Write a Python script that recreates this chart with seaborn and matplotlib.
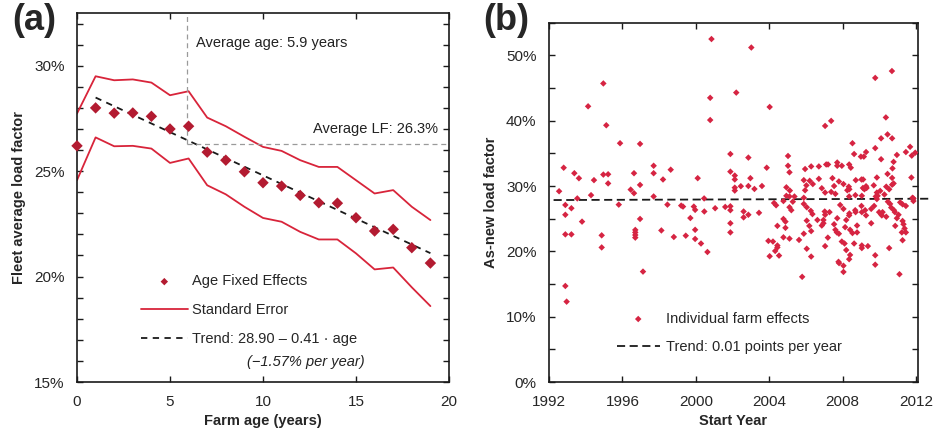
import numpy as np
import pandas as pd
import matplotlib
matplotlib.use("Agg")
import matplotlib.pyplot as plt
import seaborn as sns
from matplotlib.ticker import MultipleLocator, FuncFormatter

# ---------------- data: panel (a) ----------------
age = list(range(20))
age_effect = [26.2, 28.0, 27.75, 27.76, 27.6, 27.0, 27.13, 25.9, 25.52, 24.97,
              24.45, 24.29, 23.85, 23.5, 23.48, 22.79, 22.16, 22.24, 21.37, 20.64]
se_upper = [27.73, 29.5, 29.31, 29.35, 29.2, 28.6, 28.79, 27.54, 27.13, 26.63,
            26.15, 25.96, 25.52, 25.2, 25.2, 24.57, 23.94, 24.1, 23.31, 22.68]
se_lower = [24.57, 26.6, 26.18, 26.2, 26.07, 25.39, 25.6, 24.33, 23.9, 23.31,
            22.78, 22.6, 22.12, 21.76, 21.76, 21.1, 20.34, 20.43, 19.49, 18.6]
trend_intercept = 28.90
trend_slope = -0.41
trend_ages = [1, 19]
avg_age = 5.9
avg_lf = 26.3

# ---------------- data: panel (b) ----------------
start_year = [
    1992.55, 1992.8, 1993.38, 1993.63, 1993.54, 1994.13, 1994.29, 1994.45, 1994.96, 1994.96,
    1995.22, 1995.22, 1995.12, 1995.87, 1996.45, 1996.63, 1996.63, 1996.96, 1996.96, 1997.7,
    1997.7, 1997.7, 1998.21, 1998.63,
    1992.89, 1993.22, 1992.89, 1993.8, 1992.89, 1993.22, 1994.87, 1994.87, 1995.8, 1996.96,
    1996.7, 1996.7, 1996.7, 1996.7, 1998.12, 1998.45, 1998.8, 1997.12, 1992.89, 1992.96,
    1999.2, 1999.3, 1999.45, 1999.7, 1999.89, 1999.96, 1999.96, 1999.96, 2000.28, 2000.46,
    2000.63, 2001.05, 2000.1, 2000.45, 2000.85, 2000.78, 2000.78,
    2003.02, 2002.2, 2004.02, 2001.88, 2001.88, 2002.12, 2002.12, 2002.12, 2002.12, 2002.45,
    2002.86, 2002.97, 2002.86, 2003.19, 2003.6, 2003.86, 2005.02, 2005.02, 2005.1, 2004.93,
    2005.12, 2004.93, 2005.1, 2005.37,
    2001.6, 2001.88, 2001.88, 2001.88, 2001.88, 2002.6, 2002.6, 2002.86, 2003.44, 2004.26,
    2004.37, 2004.77, 2005.1, 2005.2, 2005.28, 2004.77, 2004.88, 2004.44, 2004.88, 2004.77,
    2005.1, 2003.95, 2004.2, 2004.44, 2004.44, 2004.32, 2004.02, 2004.53,
    2010.68, 2009.77, 2010.35, 2007.04, 2007.37, 2010.44, 2010.09, 2010.69, 2008.53, 2009.77,
    2011.67, 2011.76, 2011.95, 2011.44, 2008.62, 2008.99, 2009.15, 2009.27, 2010.95, 2010.77,
    2010.09, 2010.71, 2010.44, 2010.69, 2011.74, 2009.86, 2005.95, 2006.28, 2006.7, 2007.1,
    2007.2, 2007.7, 2007.7, 2007.95, 2008.35, 2008.44, 2005.88, 2006.2, 2006.7, 2006.02,
    2006.37, 2005.95, 2006.86, 2007.04, 2007.44, 2007.53, 2007.37, 2007.6, 2007.79, 2008.04,
    2008.33, 2008.36, 2008.25, 2008.71, 2009.02, 2009.11, 2009.27, 2009.1, 2009.18, 2009.3,
    2009.69, 2009.86, 2010.04, 2010.27, 2010.37, 2010.53, 2010.69, 2010.77, 2008.69, 2009.04,
    2008.35, 2005.88, 2009.8, 2009.9, 2011.8,
    2005.88, 2006.04, 2006.26, 2006.35, 2006.04, 2006.62, 2006.18, 2006.28, 2005.88, 2005.62,
    2006.04, 2006.28, 2005.79, 2007.02, 2007.28, 2007.04, 2006.95, 2006.95, 2006.86, 2007.19,
    2007.04, 2007.53, 2007.7, 2007.6, 2007.68, 2007.79, 2007.86, 2008.04, 2007.95, 2008.1,
    2008.19, 2007.77, 2007.8, 2008.04, 2008.04, 2008.4, 2008.35, 2008.13, 2008.4, 2008.53,
    2008.62, 2008.78, 2008.78, 2008.36, 2008.35, 2008.19, 2008.68, 2008.7, 2009.02, 2009.22,
    2009.04, 2009.27, 2009.04, 2009.04, 2009.37, 2009.55, 2009.55, 2009.71, 2009.77, 2009.77,
    2009.98, 2010.09, 2010.17, 2010.13, 2009.86, 2010.37, 2010.46, 2010.58, 2010.64, 2010.79,
    2010.84, 2011.04, 2010.95, 2010.86, 2010.53, 2011.09, 2011.13, 2011.26, 2011.44, 2011.26,
    2011.31, 2011.37, 2011.22, 2011.44, 2011.26, 2011.85, 2011.85,
]
as_new_lf = [
    29.2, 32.8, 31.96, 31.19, 28.1, 42.2, 28.6, 30.9, 45.7, 31.75,
    31.8, 30.4, 39.3, 36.55, 29.45, 28.9, 31.96, 30.17, 36.45, 33.1,
    31.96, 28.4, 31.0, 32.5,
    27.1, 26.6, 25.6, 24.55, 22.6, 22.6, 22.45, 20.6, 27.15, 24.96,
    23.28, 22.9, 22.5, 22.1, 23.2, 27.15, 22.2, 16.9, 14.7, 12.3,
    27.0, 26.85, 22.4, 25.1, 26.85, 26.35, 23.3, 21.9, 21.2, 26.1,
    19.9, 26.6, 31.2, 28.1, 52.5, 43.5, 40.1,
    51.2, 44.3, 42.1, 34.9, 32.2, 31.6, 31.0, 29.75, 29.3, 29.97,
    34.35, 31.2, 30.0, 29.55, 30.0, 32.8, 34.6, 33.1, 32.1, 29.8,
    29.3, 28.5, 28.4, 28.4,
    26.8, 26.9, 26.3, 24.3, 22.9, 26.1, 25.2, 25.6, 25.9, 27.4,
    27.05, 27.7, 26.75, 26.3, 27.6, 24.96, 24.55, 23.9, 23.6, 22.15,
    21.95, 21.6, 21.5, 20.9, 20.6, 20.06, 19.25, 19.35,
    47.6, 46.55, 40.5, 39.2, 39.97, 37.9, 37.3, 37.3, 36.55, 35.8,
    36.0, 34.65, 35.1, 35.2, 34.9, 34.5, 34.5, 35.2, 34.76, 33.7,
    34.1, 32.7, 31.85, 31.24, 31.3, 31.3, 32.6, 33.0, 33.0, 33.3,
    33.3, 33.6, 33.1, 33.1, 33.3, 32.8, 30.9, 30.8, 31.1, 30.1,
    30.3, 29.35, 29.66, 29.0, 31.2, 30.0, 29.1, 28.8, 30.7, 30.3,
    29.9, 29.5, 29.35, 30.9, 31.0, 31.0, 29.97, 29.7, 29.5, 29.7,
    30.1, 29.0, 29.25, 28.7, 29.9, 29.5, 30.2, 30.4, 28.6, 28.5,
    28.4, 28.2, 28.4, 28.5, 28.2,
    27.26, 26.75, 26.2, 25.7, 24.7, 24.8, 23.9, 23.1, 22.7, 21.75,
    20.4, 19.2, 16.1, 26.1, 26.0, 25.6, 24.8, 24.3, 23.95, 22.1,
    20.8, 24.15, 25.07, 23.3, 22.9, 22.7, 27.1, 26.5, 21.5, 21.2,
    20.2, 18.4, 18.2, 17.8, 16.85, 19.45, 18.8, 23.7, 23.3, 22.8,
    21.2, 23.95, 22.9, 25.8, 25.5, 24.8, 26.3, 26.0, 26.95, 26.3,
    26.0, 25.5, 20.9, 20.5, 20.8, 24.3, 26.5, 26.95, 19.4, 17.96,
    26.0, 25.7, 26.0, 25.5, 28.0, 25.3, 27.6, 27.26, 26.7, 26.3,
    26.0, 25.6, 25.07, 23.9, 20.5, 16.5, 27.5, 27.2, 26.95, 24.65,
    24.15, 23.5, 22.9, 22.9, 21.7, 28.1, 27.7,
]
trend_b_level = 27.95      # trend value in 2002
trend_b_slope = 0.01       # points per year
trend_b_years = [1992.25, 2012.75]

# ---------------- styling ----------------
sns.set_theme(style="ticks")
plt.rcParams["font.family"] = ["Liberation Sans", "DejaVu Sans"]
plt.rcParams["axes.edgecolor"] = "#1a1a1a"
plt.rcParams["axes.linewidth"] = 1.2

FE_RED = "#B31B31"
SE_RED = "#D8243A"
PT_RED = "#D62442"
TICK_FS = 11
LAB_FS = 10.5

pct = FuncFormatter(lambda v, _: f"{v:.0f}%")

fig = plt.figure(figsize=(9.33, 4.32), dpi=100)
ax_a = fig.add_axes([77 / 933, 1 - 382 / 432, 372 / 933, 369 / 432])
ax_b = fig.add_axes([549 / 933, 1 - 382 / 432, 369 / 933, 359.3 / 432])

# ---------------- panel (a) ----------------
df_a = pd.DataFrame({"age": age, "effect": age_effect,
                     "upper": se_upper, "lower": se_lower})
sns.lineplot(data=df_a, x="age", y="upper", color=SE_RED, lw=1.3, ax=ax_a,
             label="Standard Error")
sns.lineplot(data=df_a, x="age", y="lower", color=SE_RED, lw=1.3, ax=ax_a)

df_trend = pd.DataFrame({"age": trend_ages})
df_trend["lf"] = trend_intercept + trend_slope * df_trend["age"]
sns.lineplot(data=df_trend, x="age", y="lf", color="#1a1a1a", lw=1.3,
             linestyle=(0, (3.5, 3)), ax=ax_a,
             label="Trend: 28.90 \u2013 0.41 \u00b7 age")

sns.scatterplot(data=df_a, x="age", y="effect", marker="D", s=34,
                color=FE_RED, edgecolor="none", ax=ax_a, zorder=4,
                clip_on=False, label="Age Fixed Effects")

ax_a.set_xlim(0, 20)
ax_a.set_ylim(15, 32.5)
ax_a.vlines(avg_age, avg_lf, 32.5, colors="#9a9a9a", lw=0.9,
            linestyles=(0, (4, 3)))
ax_a.hlines(avg_lf, avg_age, 20, colors="#9a9a9a", lw=0.9,
            linestyles=(0, (4, 3)))
ax_a.text(6.4, 31.1, f"Average age: {avg_age} years", fontsize=LAB_FS,
          va="center", ha="left", color="#222222")
ax_a.text(19.4, 27.0, f"Average LF: {avg_lf}%", fontsize=LAB_FS,
          va="center", ha="right", color="#222222")

ax_a.xaxis.set_major_locator(MultipleLocator(5))
ax_a.yaxis.set_major_locator(MultipleLocator(5))
ax_a.yaxis.set_minor_locator(MultipleLocator(1))
ax_a.yaxis.set_major_formatter(pct)
ax_a.set_xlabel("Farm age (years)", fontsize=LAB_FS, fontweight="bold", labelpad=4)
ax_a.set_ylabel("Fleet average load factor", fontsize=LAB_FS,
                fontweight="bold", labelpad=6)

handles, labels = ax_a.get_legend_handles_labels()
order = ["Age Fixed Effects", "Standard Error", "Trend: 28.90 \u2013 0.41 \u00b7 age"]
hmap = dict(zip(labels, handles))
ax_a.legend([hmap[k] for k in order], order, loc="center left",
            bbox_to_anchor=(0.172, 0.195), frameon=False, fontsize=LAB_FS,
            handlelength=3.2, handletextpad=0.3, labelspacing=1.0,
            borderpad=0, borderaxespad=0, markerscale=0.65)
ax_a.text(15.47, 15.96, "(\u22121.57% per year)", fontsize=LAB_FS,
          style="italic", ha="right", va="center", color="#222222")

# ---------------- panel (b) ----------------
df_b = pd.DataFrame({"year": start_year, "lf": as_new_lf})
sns.scatterplot(data=df_b, x="year", y="lf", marker="D", s=11, color=PT_RED,
                edgecolor="none", ax=ax_b, zorder=3,
                label="Individual farm effects")
df_tb = pd.DataFrame({"year": trend_b_years})
df_tb["lf"] = trend_b_level + trend_b_slope * (df_tb["year"] - 2002)
sns.lineplot(data=df_tb, x="year", y="lf", color="#1a1a1a", lw=1.3,
             linestyle=(0, (4.5, 2.5)), ax=ax_b, zorder=2,
             label="Trend: 0.01 points per year")
for ln in ax_b.lines:
    ln.set_clip_on(False)

ax_b.set_xlim(1992, 2012.1)
ax_b.set_ylim(0, 55)
ax_b.xaxis.set_major_locator(MultipleLocator(4))
ax_b.yaxis.set_major_locator(MultipleLocator(10))
ax_b.yaxis.set_minor_locator(MultipleLocator(5))
ax_b.yaxis.set_major_formatter(pct)
ax_b.set_xlabel("Start Year", fontsize=LAB_FS, fontweight="bold", labelpad=4)
ax_b.set_ylabel("As-new load factor", fontsize=LAB_FS, fontweight="bold",
                labelpad=6)
ax_b.legend(loc="center left", bbox_to_anchor=(0.1835, 0.136), frameon=False,
            fontsize=LAB_FS, handlelength=2.95, handletextpad=0.4,
            labelspacing=1.0, borderpad=0, borderaxespad=0, markerscale=1.0)

# ---------------- shared axis cosmetics ----------------
for ax in (ax_a, ax_b):
    ax.tick_params(which="both", direction="in", top=True, right=True,
                   labelsize=TICK_FS, color="#1a1a1a", width=1.0)
    ax.tick_params(which="major", length=4.5, pad=9)
    ax.tick_params(which="minor", length=4.5)
    for sp in ax.spines.values():
        sp.set_visible(True)
        sp.set_linewidth(1.2)

fig.text(12 / 933, 1 - 3 / 432, "(a)", fontsize=26, fontweight="bold",
         ha="left", va="top")
fig.text(483 / 933, 1 - 3 / 432, "(b)", fontsize=26, fontweight="bold",
         ha="left", va="top")

fig.savefig("out.png", dpi=100)
